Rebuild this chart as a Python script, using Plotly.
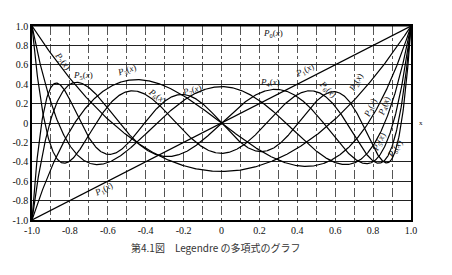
import numpy as np
import plotly.graph_objects as go

# Legendre polynomial coefficients (ascending powers of x), P0..P7
P0 = [1.0]
P1 = [0.0, 1.0]
P2 = [-0.5, 0.0, 1.5]
P3 = [0.0, -1.5, 0.0, 2.5]
P4 = [0.375, 0.0, -3.75, 0.0, 4.375]
P5 = [0.0, 1.875, 0.0, -8.75, 0.0, 7.875]
P6 = [-0.3125, 0.0, 6.5625, 0.0, -19.6875, 0.0, 14.4375]
P7 = [0.0, -2.1875, 0.0, 19.6875, 0.0, -43.3125, 0.0, 26.8125]
polys = [P0, P1, P2, P3, P4, P5, P6, P7]

tick_vals = [-1.0, -0.8, -0.6, -0.4, -0.2, 0.0, 0.2, 0.4, 0.6, 0.8, 1.0]
tick_text = ["-1.0", "-0.8", "-0.6", "-0.4", "-0.2", "0", "0.2", "0.4", "0.6", "0.8", "1.0"]

# curve labels: (index, x, y, angle)
labels = [
    (0, 0.27, 0.925, 0),
    (1, -0.62, -0.69, -27),
    (1, 0.44, 0.54, -27),
    (2, -0.84, 0.63, 52),
    (5, -0.73, 0.485, 0),
    (3, -0.50, 0.54, -18),
    (6, -0.34, 0.27, 35),
    (7, -0.155, 0.34, -15),
    (4, 0.255, 0.42, 0),
    (6, 0.56, 0.35, 45),
    (2, 0.71, 0.42, -60),
    (3, 0.79, 0.155, -65),
    (4, 0.857, 0.175, -70),
    (5, 0.83, -0.196, -65),
    (6, 0.914, -0.268, -55),
]

caption = "第4.1図　Legendre の多項式のグラフ"

xs = np.linspace(-1, 1, 801)
fig = go.Figure()
for c in polys:
    ys = np.polynomial.polynomial.polyval(xs, c)
    fig.add_trace(go.Scatter(x=xs, y=ys, mode="lines",
                             line=dict(color="black", width=1.2),
                             showlegend=False, hoverinfo="skip"))

serif = "Liberation Serif, DejaVu Serif, serif"
for i, lx, ly, ang in labels:
    fig.add_annotation(x=lx, y=ly, text=f"<i>P</i><sub>{i}</sub>(<i>x</i>)",
                       showarrow=False, textangle=ang,
                       font=dict(family=serif, size=9, color="#111"))

fig.add_annotation(x=1.0, y=0.0, text="x", showarrow=False, xshift=6,
                   xanchor="left", font=dict(family=serif, size=7, color="#111"))
fig.add_annotation(xref="paper", yref="paper", x=0.486, y=-0.144,
                   yanchor="middle",
                   text=caption, showarrow=False,
                   font=dict(family="Noto Sans CJK JP", size=10, color="#333"))

fig.update_layout(
    width=452, height=275,
    margin=dict(l=26, r=41, t=26, b=55),
    paper_bgcolor="white", plot_bgcolor="white",
    font=dict(family=serif, size=10, color="#111"),
)
fig.update_xaxes(range=[-1, 1], tickvals=tick_vals, ticktext=tick_text,
                 showline=True, linecolor="black", linewidth=1.5, mirror=True,
                 showgrid=True, gridcolor="#555", gridwidth=0.8, griddash="dashdot",
                 minor=dict(dtick=0.1, showgrid=True, gridcolor="#555",
                            griddash="dashdot", gridwidth=0.8),
                 zeroline=False, ticks="", tickfont=dict(size=10))
fig.update_yaxes(range=[-1, 1], tickvals=tick_vals, ticktext=tick_text,
                 showline=True, linecolor="black", linewidth=1.5, mirror=True,
                 showgrid=True, gridcolor="#222", gridwidth=1,
                 zeroline=False, ticks="", tickfont=dict(size=10))

fig.write_html("out.html")
